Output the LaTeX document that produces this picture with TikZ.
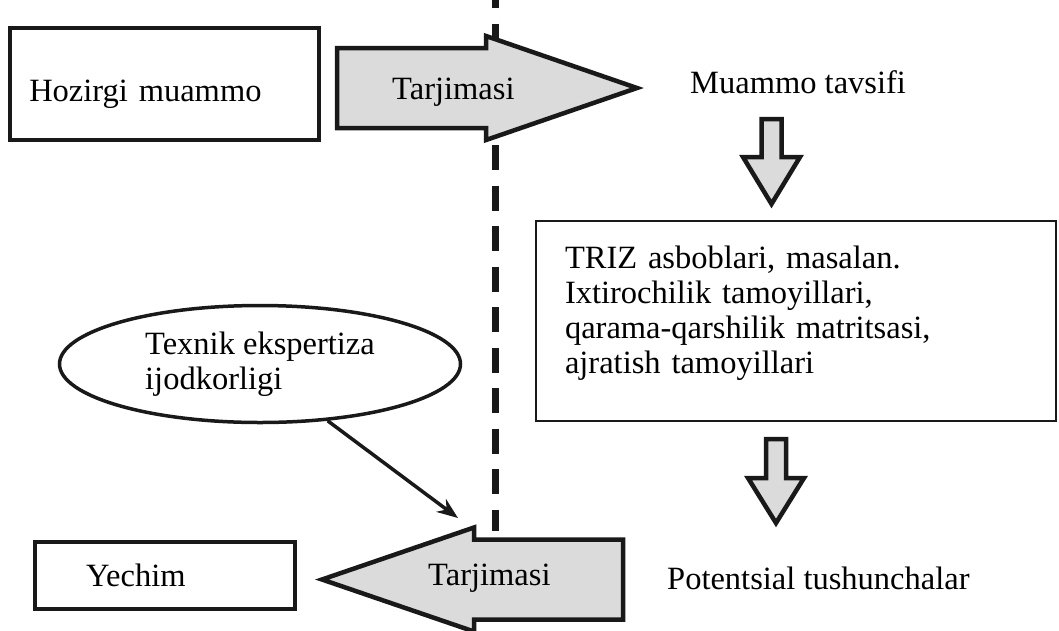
\documentclass[tikz,border=0pt]{standalone}
\usepackage{fontspec}
\setmainfont{Liberation Serif}
\usetikzlibrary{arrows.meta, shapes.geometric}

\begin{document}
\begin{tikzpicture}[
    x=1pt, y=-1pt,
    font=\fontsize{32.5}{35}\selectfont,
    box/.style={rectangle, draw=black!90, align=left, inner ysep=0pt},
    plaintext/.style={inner sep=0pt, anchor=base west},
    blockarrow/.style={draw=black!90, fill=gray!28, line width=4.5pt, line join=miter},
    divider/.style={draw=black!90, line width=7pt, dash pattern=on 25pt off 15.5pt, dash phase=17pt},
    thinarrow/.style={-{Stealth[length=21pt, width=16pt]}, line width=3.5pt, draw=black!90}
]
    \useasboundingbox (0,0) rectangle (1059,630);

    \newcommand{\drawfatarrow}[6]{
        \begin{scope}[shift={(#1)}, rotate=#2]
            \draw[blockarrow] (0,-#5) -- (#3-#4,-#5) -- (#3-#4,-#6) -- (#3,0)
                -- (#3-#4,#6) -- (#3-#4,#5) -- (0,#5) -- cycle;
        \end{scope}
    }

    % Boxes and texts
    \node[box, line width=4pt, minimum width=309.5pt, minimum height=112pt,
          text width=270pt, inner xsep=19.75pt, text height=34pt, text depth=0pt]
        (muammo) at (164.25,84) {Hozirgi muammo};
    \node[plaintext] (tavsif) at (690,93) {Muammo tavsifi};
    \node[box, line width=2.2pt, minimum width=520pt, minimum height=200pt,
          text width=462pt, inner xsep=29pt, text height=22pt, text depth=128pt]
        (triz) at (796,321) {TRIZ asboblari, masalan.\\ Ixtirochilik tamoyillari,\\
        qarama-qarshilik matritsasi,\\ ajratish tamoyillari};
    \node[plaintext] (tushuncha) at (667,589) {Potentsial tushunchalar};
    \node[ellipse, draw=black!90, line width=3.5pt, minimum width=401pt, minimum height=117pt,
          inner sep=0pt, align=left] (ekspert) at (260,364) {Texnik ekspertiza\\ ijodkorligi};
    \node[box, line width=4pt, minimum width=260pt, minimum height=67pt,
          text width=158pt, inner xsep=51pt] (yechim) at (165,575.5) {Yechim};

    % Dividing line
    \coordinate (chiziqA) at (495,0);
    \coordinate (chiziqB) at (495,531);
    \draw[divider] (chiziqA) -- (chiziqB);

    % Block arrows
    \drawfatarrow{337,88}{0}{300}{151}{40}{52}
    \drawfatarrow{623,579.5}{180}{301}{152}{40}{52}
    \drawfatarrow{771.5,119}{-90}{85}{47}{10}{28.5}
    \drawfatarrow{776,439}{-90}{84}{45}{10}{28}
    \node[plaintext] (tarjimaA) at (392,99) {Tarjimasi};
    \node[plaintext] (tarjimaB) at (428,585) {Tarjimasi};

    % Expertise into the way back
    \coordinate (kirish) at (458,518);
    \draw[thinarrow] (ekspert.-40) -- (kirish);
\end{tikzpicture}
\end{document}
